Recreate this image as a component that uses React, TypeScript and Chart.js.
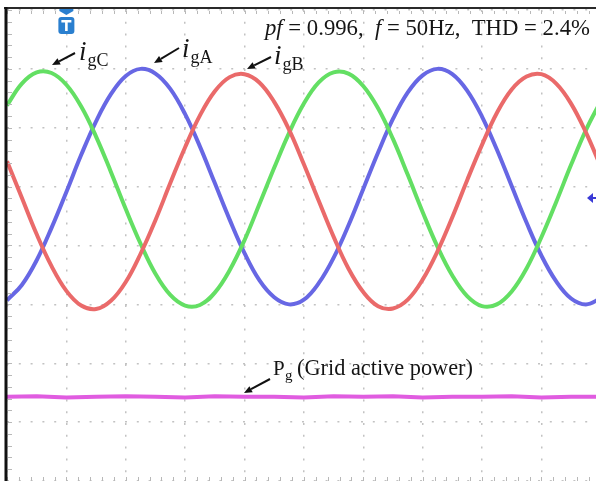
import React, { useEffect, useRef } from "react";
import { Chart, registerables } from "chart.js";

Chart.register(...registerables);

// time axis in divisions (oscilloscope: 10 div across, 8 div tall)
const TIME = [
  0, 0.25, 0.5, 0.75, 1, 1.25, 1.5, 1.75, 2, 2.25, 2.5, 2.75, 3, 3.25, 3.5, 3.75,
  4, 4.25, 4.5, 4.75, 5, 5.25, 5.5, 5.75, 6, 6.25, 6.5, 6.75, 7, 7.25, 7.5, 7.75,
  8, 8.25, 8.5, 8.75, 9, 9.25, 9.5, 9.75, 10,
];

const I_GA = [
  -0.93, -0.67, -0.25, 0.3, 0.91, 1.54, 2.11, 2.57, 2.88, 3.0, 2.92, 2.66, 2.23, 1.68, 1.06, 0.44,
  -0.13, -0.59, -0.88, -1.0, -0.92, -0.64, -0.21, 0.34, 0.96, 1.58, 2.15, 2.6, 2.89, 3.0, 2.91, 2.63,
  2.19, 1.63, 1.01, 0.39, -0.17, -0.61, -0.9, -1.0, -0.9,
];
const I_GB = [
  1.43, 0.81, 0.19, -0.35, -0.77, -1.02, -1.08, -0.94, -0.62, -0.14, 0.43, 1.06, 1.67, 2.21, 2.62, 2.86,
  2.91, 2.77, 2.44, 1.97, 1.38, 0.76, 0.15, -0.39, -0.79, -1.03, -1.07, -0.92, -0.58, -0.1, 0.48, 1.11,
  1.71, 2.25, 2.65, 2.87, 2.91, 2.75, 2.41, 1.92, 1.34,
];
const I_GC = [
  2.38, 2.75, 2.94, 2.93, 2.73, 2.36, 1.85, 1.25, 0.62, 0.03, -0.48, -0.84, -1.02, -1.01, -0.8, -0.42,
  0.09, 0.7, 1.32, 1.91, 2.41, 2.77, 2.94, 2.92, 2.71, 2.33, 1.81, 1.2, 0.57, -0.02, -0.51, -0.86,
  -1.03, -1.0, -0.78, -0.39, 0.14, 0.74, 1.37, 1.96, 2.45,
];

// grid active power trace
const P_TIME = [0, 0.5, 1, 1.5, 2, 2.5, 3, 3.5, 4, 4.5, 5, 5.5, 6, 6.5, 7, 7.5, 8, 8.5, 9, 9.5, 10];
const P_G = [
  -2.57, -2.56, -2.58, -2.57, -2.56, -2.57, -2.58, -2.56, -2.57, -2.57, -2.58,
  -2.56, -2.57, -2.56, -2.58, -2.57, -2.57, -2.56, -2.58, -2.57, -2.57,
];

const X_GRID = [0, 1, 2, 3, 4, 5, 6, 7, 8, 9];
const Y_GRID = [-4, -3, -2, -1, 0, 1, 2, 3, 4];

const GREEN = "#63df63";
const BLUE = "#6767e4";
const RED = "#ea6a6a";
const MAGENTA = "#e05ce0";
const SERIF = '"Liberation Serif", "Times New Roman", serif';

function arrow(ctx: CanvasRenderingContext2D, x1: number, y1: number, x2: number, y2: number) {
  const ang = Math.atan2(y2 - y1, x2 - x1);
  const hl = 8;
  const hw = 3.5;
  const bx = x2 - hl * Math.cos(ang);
  const by = y2 - hl * Math.sin(ang);
  ctx.strokeStyle = "#111";
  ctx.fillStyle = "#111";
  ctx.lineWidth = 2;
  ctx.beginPath();
  ctx.moveTo(x1, y1);
  ctx.lineTo(bx, by);
  ctx.stroke();
  ctx.beginPath();
  ctx.moveTo(x2, y2);
  ctx.lineTo(bx + hw * Math.sin(ang), by - hw * Math.cos(ang));
  ctx.lineTo(bx - hw * Math.sin(ang), by + hw * Math.cos(ang));
  ctx.closePath();
  ctx.fill();
}

function subLabel(ctx: CanvasRenderingContext2D, x: number, y: number, sub: string) {
  ctx.fillStyle = "#151515";
  ctx.font = `italic 27px ${SERIF}`;
  ctx.fillText("i", x, y);
  const w = ctx.measureText("i").width;
  ctx.font = `18px ${SERIF}`;
  ctx.fillText(sub, x + w + 1, y + 6);
}

type Seg = { t: string; it: boolean };

function fitSegments(ctx: CanvasRenderingContext2D, segs: Seg[], x: number, y: number, targetW: number) {
  const base = 20;
  let w = 0;
  for (const s of segs) {
    ctx.font = `${s.it ? "italic " : ""}${base}px ${SERIF}`;
    w += ctx.measureText(s.t).width;
  }
  const size = (base * targetW) / w;
  let cx = x;
  ctx.fillStyle = "#151515";
  for (const s of segs) {
    ctx.font = `${s.it ? "italic " : ""}${size}px ${SERIF}`;
    ctx.fillText(s.t, cx, y);
    cx += ctx.measureText(s.t).width;
  }
}

const overlay = {
  id: "overlay",
  afterDatasetsDraw(chart: any) {
    const ctx: CanvasRenderingContext2D = chart.ctx;
    const { left, top, bottom } = chart.chartArea;
    const ys = chart.scales.y;
    const xs = chart.scales.x;
    ctx.save();
    // minor ticks on left edge, top and bottom edges
    ctx.strokeStyle = "#b8b8b8";
    ctx.lineWidth = 1;
    for (let v = -4; v <= 4.001; v += 0.2) {
      const py = Math.round(ys.getPixelForValue(v)) + 0.5;
      ctx.beginPath();
      ctx.moveTo(left + 1, py);
      ctx.lineTo(left + 5, py);
      ctx.stroke();
    }
    for (let v = 0; v <= 10; v += 0.2) {
      const px = Math.round(xs.getPixelForValue(v)) + 0.5;
      ctx.beginPath();
      ctx.moveTo(px, top + 1);
      ctx.lineTo(px, top + 4);
      ctx.moveTo(px, bottom - 4);
      ctx.lineTo(px, bottom);
      ctx.stroke();
    }
    // frame
    ctx.strokeStyle = "#2a2a2a";
    ctx.lineWidth = 2;
    ctx.beginPath();
    ctx.moveTo(4, 8);
    ctx.lineTo(596, 8);
    ctx.stroke();
    ctx.strokeStyle = "#111";
    ctx.lineWidth = 3;
    ctx.beginPath();
    ctx.moveTo(left - 1, 7);
    ctx.lineTo(left - 1, 481);
    ctx.stroke();

    // trigger marker
    const tx = xs.getPixelForValue(1);
    ctx.fillStyle = "#2a7fcf";
    ctx.beginPath();
    ctx.moveTo(tx - 7, 9);
    ctx.lineTo(tx + 7, 9);
    ctx.lineTo(tx + 7, 11);
    ctx.lineTo(tx, 15);
    ctx.lineTo(tx - 7, 11);
    ctx.closePath();
    ctx.fill();
    ctx.beginPath();
    (ctx as any).roundRect(tx - 8, 17, 16, 17, 3);
    ctx.fill();
    ctx.fillStyle = "#fff";
    ctx.fillRect(tx - 5, 20, 10, 2.5);
    ctx.fillRect(tx - 1.3, 20, 2.6, 11);

    // right-side channel marker
    const my = 198;
    ctx.fillStyle = "#3a3ad6";
    ctx.beginPath();
    ctx.moveTo(587, my);
    ctx.lineTo(593, my - 5);
    ctx.lineTo(593, my + 5);
    ctx.closePath();
    ctx.fill();
    ctx.fillRect(592, my - 1, 4, 2);

    // top text
    fitSegments(
      ctx,
      [
        { t: "pf", it: true },
        { t: " = 0.996,  ", it: false },
        { t: "f", it: true },
        { t: " = 50Hz,  THD = 2.4%", it: false },
      ],
      265,
      35,
      325
    );

    // current labels
    arrow(ctx, 75, 53, 52, 65);
    subLabel(ctx, 79, 60, "gC");
    arrow(ctx, 179, 48, 154, 63);
    subLabel(ctx, 182, 57, "gA");
    arrow(ctx, 271, 57, 247, 69);
    subLabel(ctx, 274, 64, "gB");

    // power label
    arrow(ctx, 270, 379, 244, 393);
    ctx.fillStyle = "#151515";
    ctx.font = `21px ${SERIF}`;
    ctx.fillText("P", 273, 375);
    ctx.font = `15px ${SERIF}`;
    ctx.fillText("g", 285, 380);
    fitSegments(ctx, [{ t: "(Grid active power)", it: false }], 297, 375, 176);
    ctx.restore();
  },
};

export default function App() {
  const ref = useRef<HTMLCanvasElement | null>(null);
  useEffect(() => {
    const canvas = ref.current;
    if (!canvas) return;
    const mk = (ys: number[]) => TIME.map((t, i) => ({ x: t, y: ys[i] }));
    const chart = new Chart(canvas, {
      type: "line",
      data: {
        datasets: [
          { label: "Pg", data: P_TIME.map((t, i) => ({ x: t, y: P_G[i] })), borderColor: MAGENTA, borderWidth: 4, pointRadius: 0, tension: 0 },
          { label: "igB", data: mk(I_GB), borderColor: RED, borderWidth: 4, pointRadius: 0, tension: 0.4 },
          { label: "igC", data: mk(I_GC), borderColor: GREEN, borderWidth: 4, pointRadius: 0, tension: 0.4 },
          { label: "igA", data: mk(I_GA), borderColor: BLUE, borderWidth: 4, pointRadius: 0, tension: 0.4 },
        ],
      },
      options: {
        animation: false,
        responsive: false,
        maintainAspectRatio: false,
        layout: { padding: { left: 7, top: 10, right: 0, bottom: 0 } },
        plugins: { legend: { display: false }, tooltip: { enabled: false } },
        scales: {
          x: {
            type: "linear",
            min: 0,
            max: 9.92,
            afterBuildTicks: (s: any) => {
              s.ticks = X_GRID.map((v) => ({ value: v }));
            },
            afterFit: (s: any) => {
              s.height = 0;
            },
            ticks: { display: false },
            grid: { color: "#c2c2c2", lineWidth: 1.5, drawTicks: false },
            border: { display: false, dash: [2, 9.8] },
          },
          y: {
            type: "linear",
            min: -4,
            max: 4,
            afterBuildTicks: (s: any) => {
              s.ticks = Y_GRID.map((v) => ({ value: v }));
            },
            afterFit: (s: any) => {
              s.width = 0;
            },
            ticks: { display: false },
            grid: { color: "#c2c2c2", lineWidth: 1.5, drawTicks: false },
            border: { display: false, dash: [2, 9.8] },
          },
        },
      },
      plugins: [overlay],
    });
    return () => chart.destroy();
  }, []);
  return (
    <div style={{ position: "fixed", left: 0, top: 0, width: 596, height: 481, background: "#fff" }}>
      <canvas ref={ref} width={596} height={481} style={{ display: "block" }} />
    </div>
  );
}
